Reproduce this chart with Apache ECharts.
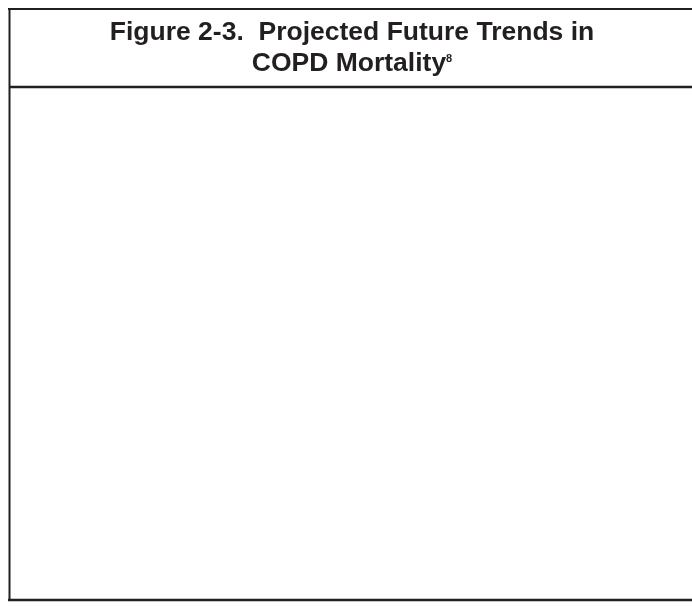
<!DOCTYPE html>
<html>
<head>
<meta charset="utf-8">
<script src="https://cdn.jsdelivr.net/npm/echarts@6/dist/echarts.min.js"></script>
<style>
html,body{margin:0;padding:0;background:#fff;}
#main{width:692px;height:607px;}
</style>
</head>
<body>
<div id="main"></div>
<script>
// Title text (the figure body in the reference is empty)
const titleLine1 = 'Figure 2-3.  Projected Future Trends in';
const titleLine2 = 'COPD Mortality';
const titleRef = '8';
const categories = [];
const values = [];

const chart = echarts.init(document.getElementById('main'), null, {renderer: 'canvas'});
const lineColor = '#231f20';
const font = '"Liberation Sans", Arial, sans-serif';
chart.setOption({
  backgroundColor: '#ffffff',
  animation: false,
  xAxis: {type: 'category', data: categories, show: false},
  yAxis: {type: 'value', show: false},
  grid: {left: 20, right: 20, top: 100, bottom: 20},
  series: [{type: 'line', data: values, silent: true}],
  graphic: [
    {type: 'line', shape: {x1: 8, y1: 9, x2: 692, y2: 9}, style: {stroke: lineColor, lineWidth: 2}},
    {type: 'line', shape: {x1: 9.5, y1: 8, x2: 9.5, y2: 601}, style: {stroke: lineColor, lineWidth: 2}},
    {type: 'line', shape: {x1: 9, y1: 87, x2: 692, y2: 87}, style: {stroke: lineColor, lineWidth: 2.5}},
    {type: 'line', shape: {x1: 8, y1: 600, x2: 692, y2: 600}, style: {stroke: lineColor, lineWidth: 2.5}},
    {type: 'text', x: 352, y: 33, style: {
      text: titleLine1, fontSize: 26.5, fontWeight: 'bold', fontFamily: font,
      fill: lineColor, align: 'center', verticalAlign: 'middle'
    }},
    {type: 'text', x: 352, y: 64, style: {
      text: '{a|' + titleLine2 + '}{s|' + titleRef + '}',
      align: 'center', verticalAlign: 'middle',
      rich: {
        a: {fontSize: 26.5, fontWeight: 'bold', fontFamily: font, fill: lineColor, lineHeight: 28},
        s: {fontSize: 11, fontWeight: 'bold', fontFamily: font, fill: lineColor, verticalAlign: 'top', lineHeight: 28, padding: [3, 0, 0, 0]}
      }
    }}
  ]
});
</script>
</body>
</html>
